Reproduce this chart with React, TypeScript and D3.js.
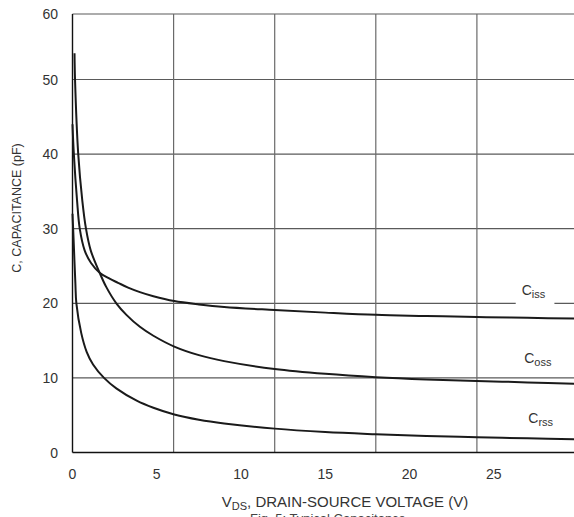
import React from "react";
import * as d3 from "d3";

// Typical capacitance vs drain-source voltage (Ciss, Coss, Crss).
const issV = [0, 0.08, 0.27, 0.43, 0.72, 1.1, 1.61, 2.2, 2.7, 3.3, 4.0, 4.8, 6.04, 7.5, 9, 12, 15, 18, 21, 24, 27, 30];
const issC = [44, 40, 33.8, 30, 27.1, 25.4, 24.1, 23.3, 22.75, 22.1, 21.5, 20.95, 20.3, 19.85, 19.5, 19.1, 18.75, 18.45, 18.3, 18.15, 18.05, 17.95];

const ossV = [0.12, 0.15, 0.34, 0.58, 0.8, 1.08, 1.61, 2.0, 2.6, 3.2, 4.0, 4.8, 6.04, 7.5, 9, 12, 15, 18, 21, 24, 27, 30];
const ossC = [54, 50, 40, 33.8, 30, 27.1, 24.1, 22.2, 20.0, 18.45, 16.85, 15.65, 14.2, 13.05, 12.25, 11.2, 10.55, 10.1, 9.8, 9.6, 9.4, 9.2];

const rssV = [0, 0.06, 0.17, 0.23, 0.52, 0.84, 1.22, 1.87, 2.6, 3.81, 4.8, 6.04, 7.5, 9, 12, 15, 18, 21, 24, 27, 30];
const rssC = [32, 28.8, 22.7, 20, 16, 13.5, 11.8, 10, 8.6, 6.95, 6.0, 5.1, 4.4, 3.9, 3.2, 2.75, 2.45, 2.2, 2.05, 1.9, 1.75];

const xTicks = [0, 5, 10, 15, 20, 25];
const yTicks = [0, 10, 20, 30, 40, 50, 60];
const xGrid = [6, 12, 18, 24, 30];
const yGrid = [10, 20, 30, 40, 50, 60];

const labels = [
  { main: "C", sub: "iss", v: 26.66, c: 21.1, gap: true },
  { main: "C", sub: "oss", v: 26.81, c: 11.96, gap: false },
  { main: "C", sub: "rss", v: 27.05, c: 3.91, gap: false },
];

const W = 574;
const H = 517;
const font = "'Liberation Sans', Arial, Helvetica, sans-serif";

export default function App() {
  const x = d3.scaleLinear().domain([0, 30]).range([72.5, 72.5 + 30 * 16.85]);
  const y = d3.scaleLinear().domain([0, 50, 60]).range([452.5, 79.5, 14]);
  const [x0, x1] = [x(0), W];

  const line = d3
    .line<[number, number]>()
    .x((d) => x(d[0]))
    .y((d) => y(d[1]))
    .curve(d3.curveCatmullRom.alpha(0.5));

  const series = [
    d3.zip(issV, issC) as [number, number][],
    d3.zip(ossV, ossC) as [number, number][],
    d3.zip(rssV, rssC) as [number, number][],
  ];

  return (
    <svg
      width={W}
      height={H}
      style={{ position: "absolute", left: 0, top: 0, background: "#fff" }}
      fontFamily={font}
    >
      <rect width={W} height={H} fill="#fff" />
      {/* grid */}
      {yGrid.map((t) => (
        <line key={"h" + t} x1={x0} x2={x1} y1={y(t)} y2={y(t)} stroke="#5a5a5a" strokeWidth={1.2} />
      ))}
      {xGrid.map((t) => (
        <line key={"v" + t} x1={x(t)} x2={x(t)} y1={y(60)} y2={y(0)} stroke="#6a6a6a" strokeWidth={1.2} />
      ))}
      {/* axes */}
      <line x1={x0} x2={x0} y1={y(60)} y2={y(0)} stroke="#111" strokeWidth={1.4} />
      <line x1={x0} x2={x1} y1={y(0)} y2={y(0)} stroke="#111" strokeWidth={1.4} />

      {/* curve labels */}
      {labels.map((l, i) => (
        <g key={i}>
          {l.gap && (
            <rect x={x(l.v) - 6} y={y(l.c) - 12} width={x(28.6) - x(l.v) + 6} height={y(19.3) - y(l.c) + 12} fill="#fff" />
          )}
          <text x={x(l.v)} y={y(l.c)} fontSize={14} fill="#333">
            {l.main}
            <tspan fontSize={11} dy={3}>
              {l.sub}
            </tspan>
          </text>
        </g>
      ))}

      {/* curves */}
      {series.map((s, i) => (
        <path key={i} d={line(s) || ""} fill="none" stroke="#1a1a1a" strokeWidth={2} />
      ))}

      {/* tick labels */}
      {yTicks.map((t) => (
        <text key={"yt" + t} x={58} y={y(t)} dy="0.36em" textAnchor="end" fontSize={14} fill="#333">
          {t}
        </text>
      ))}
      {xTicks.map((t) => (
        <text key={"xt" + t} x={x(t)} y={479} textAnchor="middle" fontSize={14} fill="#333">
          {t}
        </text>
      ))}

      {/* axis titles */}
      <text transform="translate(21,208) rotate(-90)" textAnchor="middle" fontSize={12.5} fill="#333">
        C, CAPACITANCE (pF)
      </text>
      <text x={345} y={507} textAnchor="middle" fontSize={15} fill="#333">
        V
        <tspan fontSize={11} dy={3}>
          DS
        </tspan>
        <tspan dy={-3}>, DRAIN-SOURCE VOLTAGE (V)</tspan>
      </text>
      <text x={250} y={523} fontSize={13} fill="#444">
        Fig. 5: Typical Capacitance
      </text>
    </svg>
  );
}
